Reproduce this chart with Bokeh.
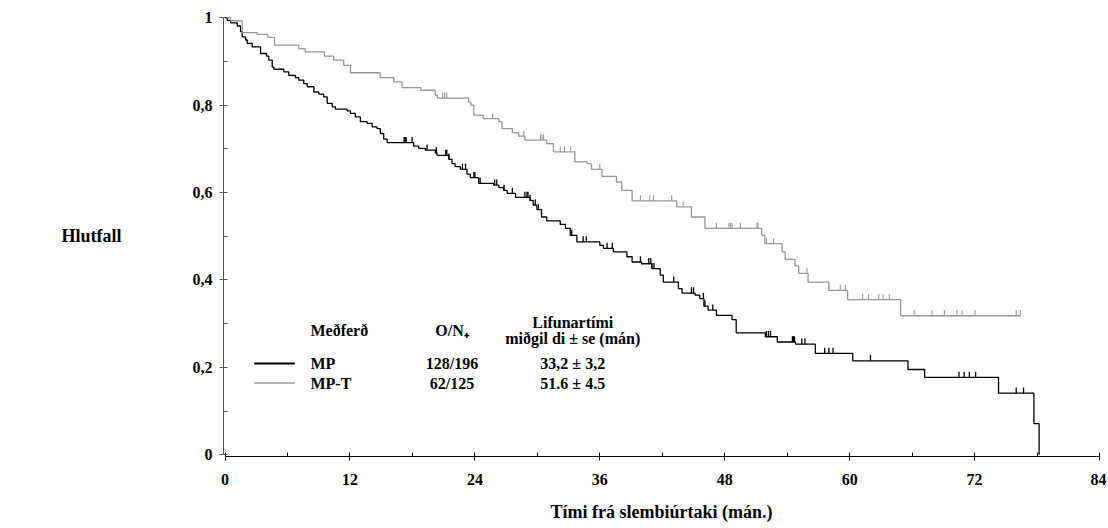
from bokeh.plotting import figure
from bokeh.models import Range1d, FixedTicker
from bokeh.core.properties import value
from bokeh.embed import file_html
from bokeh.resources import INLINE

# ---------------- data ----------------
# MP arm: event times (months) and survival after each drop
mp_time = [0.21, 0.53, 1.17, 1.49, 1.65, 1.97, 2.13, 2.61, 3.41, 3.98, 4.20, 4.53, 4.69,
           5.65, 6.12, 6.77, 7.08, 7.56, 7.89, 8.53, 9.00, 9.48, 9.81, 10.29, 10.60,
           11.73, 12.04, 12.52, 13.00, 13.65, 14.13, 14.60, 14.92, 15.24, 15.57,
           18.12, 18.60, 19.24, 20.20, 20.36, 21.50, 21.80, 22.10, 22.60, 23.24, 23.56,
           24.36, 25.80, 26.30, 26.76, 27.10, 27.90, 29.30, 29.60, 29.96, 30.40, 30.90,
           32.20, 32.70, 33.16, 33.80, 36.00, 36.35, 37.30, 38.60, 39.10, 40.00, 41.00,
           41.80, 42.10, 43.55, 43.90, 45.15, 45.60, 46.00, 46.40, 47.20, 48.70, 49.10,
           51.90, 53.05, 54.80, 56.70, 60.30, 65.60, 67.20, 74.30, 77.70, 78.20]
mp_surv = [0.994, 0.988, 0.981, 0.968, 0.956, 0.949, 0.941, 0.933, 0.918, 0.912, 0.903, 0.887, 0.882,
           0.876, 0.868, 0.863, 0.857, 0.849, 0.842, 0.830, 0.825, 0.819, 0.804, 0.796, 0.791,
           0.787, 0.781, 0.773, 0.762, 0.758, 0.750, 0.746, 0.735, 0.722, 0.714,
           0.706, 0.701, 0.697, 0.691, 0.685, 0.676, 0.666, 0.659, 0.653, 0.642, 0.634,
           0.621, 0.617, 0.611, 0.605, 0.598, 0.589, 0.582, 0.571, 0.561, 0.544, 0.535,
           0.527, 0.518, 0.502, 0.487, 0.479, 0.472, 0.464, 0.453, 0.441, 0.437, 0.426,
           0.411, 0.395, 0.380, 0.370, 0.365, 0.357, 0.340, 0.331, 0.319, 0.309, 0.279,
           0.270, 0.258, 0.253, 0.232, 0.215, 0.195, 0.177, 0.141, 0.071, 0.000]
mp_censor = [17.2, 17.3, 17.4, 17.97, 19.4, 20.3, 21.2, 21.3, 21.5, 22.8, 23.1, 23.9, 24.0,
             24.5, 25.9, 26.1, 26.8, 27.6, 28.8, 29.0, 29.1, 29.3, 29.8, 30.1, 33.3, 34.4,
             34.7, 36.7, 37.2, 39.9, 40.7, 40.9, 41.0, 41.2, 43.1, 44.8, 45.0, 45.95, 46.1,
             46.85, 52.0, 52.2, 52.4, 54.5, 54.6, 54.7, 55.4, 55.7, 57.6, 58.0, 58.4, 62.0,
             70.5, 71.0, 71.5, 72.1, 76.0, 76.7]

# MP-T arm
mpt_time = [0.53, 1.65, 3.09, 4.10, 4.75, 7.08, 7.70, 9.55, 10.44, 11.40, 12.04, 14.90,
            16.20, 17.00, 18.80, 20.20, 20.40, 23.40, 23.60, 23.90, 24.80, 26.30, 26.60,
            27.60, 28.20, 28.80, 30.90, 31.55, 33.60, 34.80, 35.20, 36.20, 37.60, 38.10,
            39.10, 43.40, 44.80, 46.10, 51.55, 51.85, 53.50, 53.80, 54.75, 55.10, 56.00,
            58.00, 59.80, 64.90]
mpt_surv = [0.993, 0.966, 0.962, 0.955, 0.937, 0.929, 0.922, 0.912, 0.903, 0.891, 0.874, 0.863,
            0.853, 0.840, 0.834, 0.823, 0.816, 0.807, 0.800, 0.777, 0.769, 0.762, 0.746,
            0.737, 0.729, 0.720, 0.712, 0.693, 0.670, 0.666, 0.653, 0.637, 0.624, 0.605,
            0.581, 0.567, 0.544, 0.518, 0.502, 0.483, 0.464, 0.447, 0.432, 0.415, 0.395,
            0.376, 0.355, 0.318]
mpt_censor = [20.9, 21.1, 21.3, 25.7, 28.7, 30.3, 30.45, 30.6, 32.2, 32.6, 33.2, 36.0, 39.9,
              40.8, 41.15, 42.9, 44.0, 47.2, 48.4, 48.55, 48.7, 49.5, 51.1, 51.2, 52.0, 52.7,
              55.9, 58.0, 59.1, 59.6, 61.25, 61.8, 62.8, 63.2, 63.8, 66.2, 67.9, 69.1, 70.3,
              70.8, 72.05, 76.0, 76.4]

x_ticks = [0, 12, 24, 36, 48, 60, 72, 84]
x_minor = [6, 18, 30, 42, 54, 66, 78]
y_ticks = [0, 0.2, 0.4, 0.6, 0.8, 1.0]
y_tick_labels = ["0", "0,2", "0,4", "0,6", "0,8", "1"]
y_minor = [0.1, 0.3, 0.5, 0.7, 0.9]

legend_names = ["MP", "MP-T"]
legend_ratio = ["128/196", "62/125"]
legend_median = ["33,2 \u00b1 3,2", "51.6 \u00b1 4.5"]
legend_header = ["Me\u00f0fer\u00f0", "O/N\u208a", "Lifunart\u00edmi", "mi\u00f0gil di \u00b1 se (m\u00e1n)"]

x_title = "T\u00edmi fr\u00e1 slembi\u00fartaki (m\u00e1n.)"
y_title = "Hlutfall"

BLACK = "#000000"
GRAY = "#989898"
FONT = "Liberation Serif"


def surv_at(times, survs, t):
    s = 1.0
    for ti, si in zip(times, survs):
        if ti <= t:
            s = si
    return s


p = figure(width=1106, height=528, output_backend="svg", toolbar_location=None,
           x_range=Range1d(-0.15, 84), y_range=Range1d(-0.004, 1.005),
           min_border_left=223, min_border_right=7, min_border_top=15, min_border_bottom=72)
p.grid.visible = False
p.outline_line_color = None
p.background_fill_color = "white"
p.border_fill_color = "white"

# curves
mp_x = [0] + mp_time
mp_y = [1.0] + mp_surv
p.step(mp_x, mp_y, mode="after", line_color=BLACK, line_width=1.3)

mpt_x = [0] + mpt_time + [mpt_censor[-1]]
mpt_y = [1.0] + mpt_surv + [mpt_surv[-1]]
p.step(mpt_x, mpt_y, mode="after", line_color=GRAY, line_width=1.3)

# censor marks
tick_h = 0.013
mp_cs = [surv_at(mp_time, mp_surv, t) for t in mp_censor]
p.segment(x0=mp_censor, y0=mp_cs, x1=mp_censor, y1=[s + tick_h for s in mp_cs],
          line_color=BLACK, line_width=1.3)
mpt_cs = [surv_at(mpt_time, mpt_surv, t) for t in mpt_censor]
p.segment(x0=mpt_censor, y0=mpt_cs, x1=mpt_censor, y1=[s + tick_h for s in mpt_cs],
          line_color=GRAY, line_width=1.1)

# legend table
row_y = [0.209, 0.164]
p.segment(x0=[2.8, 2.8], y0=row_y, x1=[6.7, 6.7], y1=row_y,
          line_color=[BLACK, GRAY], line_width=[2.0, 1.6])

txt = dict(text_font=value(FONT), text_font_style="bold", text_font_size="16px",
           text_baseline="middle", text_color="#000000")
p.text(x=[8.2, 8.2], y=row_y, text=legend_names, text_align="left", **txt)
p.text(x=[21.8, 21.8], y=row_y, text=legend_ratio, text_align="center", **txt)
p.text(x=[33.4, 33.4], y=row_y, text=legend_median, text_align="center", **txt)
p.text(x=[8.2], y=[0.284], text=[legend_header[0]], text_align="left", **txt)
p.text(x=[21.8], y=[0.284], text=[legend_header[1]], text_align="center", **txt)
p.text(x=[33.4, 33.4], y=[0.302, 0.266], text=legend_header[2:], text_align="center", **txt)

# axes
xa = p.xaxis[0]
xa.ticker = FixedTicker(ticks=x_ticks, minor_ticks=x_minor)
xa.bounds = (0, 84)
xa.axis_line_color = BLACK
xa.major_tick_line_color = BLACK
xa.minor_tick_line_color = BLACK
xa.major_tick_in = 4
xa.major_tick_out = 4
xa.minor_tick_in = 4
xa.minor_tick_out = 0
xa.major_label_standoff = 13
xa.major_label_text_font = FONT
xa.major_label_text_font_style = "bold"
xa.major_label_text_font_size = "16px"
xa.major_label_text_color = BLACK
xa.axis_label = x_title
xa.axis_label_text_font = FONT
xa.axis_label_text_font_style = "bold"
xa.axis_label_text_font_size = "18px"
xa.axis_label_text_color = BLACK
xa.axis_label_standoff = 14

ya = p.yaxis[0]
ya.ticker = FixedTicker(ticks=y_ticks, minor_ticks=y_minor)
ya.bounds = (0, 1)
ya.major_label_overrides = {t: l for t, l in zip(y_ticks, y_tick_labels)}
ya.axis_line_color = "#555555"
ya.major_tick_line_color = "#555555"
ya.minor_tick_line_color = "#555555"
ya.major_tick_in = 4
ya.major_tick_out = 4
ya.minor_tick_in = 4
ya.minor_tick_out = 0
ya.major_label_standoff = 7
ya.major_label_text_font = FONT
ya.major_label_text_font_style = "bold"
ya.major_label_text_font_size = "16px"
ya.major_label_text_color = BLACK
ya.axis_label = y_title
ya.axis_label_orientation = "horizontal"
ya.axis_label_standoff = 68
ya.axis_label_text_font = FONT
ya.axis_label_text_font_style = "bold"
ya.axis_label_text_font_size = "18px"
ya.axis_label_text_color = BLACK

open("out.html", "w").write(file_html(p, INLINE))
